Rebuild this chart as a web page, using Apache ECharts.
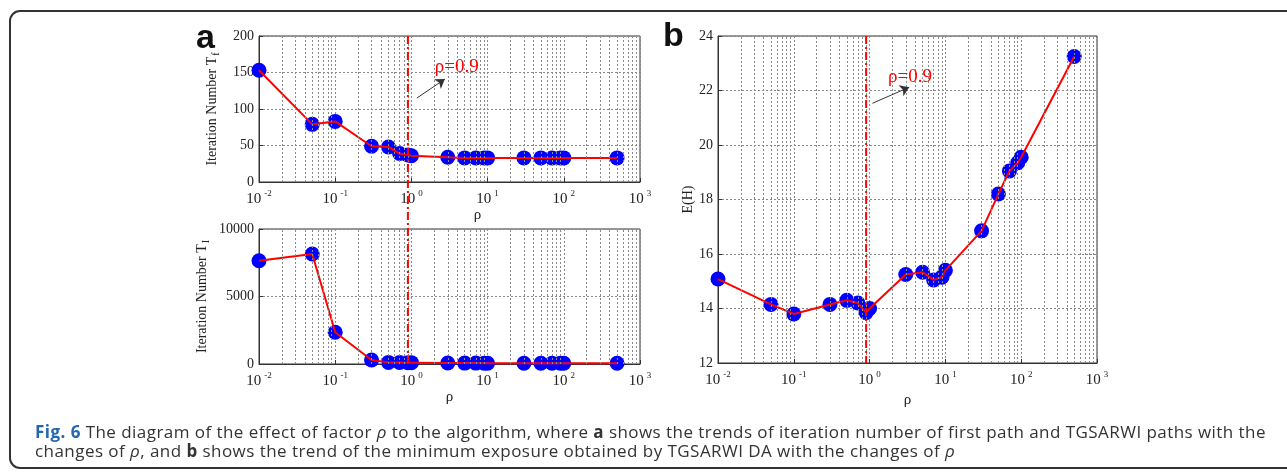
<!DOCTYPE html>
<html lang="en">
<head>
    <meta charset="UTF-8">
    <title>Fig. 6</title>
    <script src="https://cdn.jsdelivr.net/npm/echarts@6/dist/echarts.min.js"></script>
    <style>
        body { margin: 0; background: #fff; }
        #wrap { position: relative; width: 1287px; height: 474px; overflow: hidden; }
        #frame { position: absolute; left: 9px; top: 10px; width: 1300px; height: 459px;
                 border: 2px solid #333; border-radius: 11px; box-sizing: border-box; }
        #main { position: absolute; left: 0; top: 0; width: 1287px; height: 474px; }
        #caption { position: absolute; left: 35px; top: 422px;
                   font-family: "Open Sans", "Noto Sans", sans-serif; font-size: 17px;
                   line-height: 19px; color: #333; white-space: nowrap; }
        #caption b.fig { color: #2466b0; }
    </style>
</head>
<body>
<div id="wrap">
    <div id="frame"></div>
    <div id="main"></div>
    <div id="caption">
        <span id="line1"><b class="fig">Fig. 6</b> The diagram of the effect of factor <i>ρ</i> to the algorithm, where <b>a</b> shows the trends of iteration number of first path and TGSARWI paths with the</span><br>
        <span>changes of <i>ρ</i>, and <b>b</b> shows the trend of the minimum exposure obtained by TGSARWI DA with the changes of <i>ρ</i></span>
    </div>
</div>
<script type="text/javascript">
    // values
    var rho = [0.01, 0.05, 0.1, 0.3, 0.5, 0.7, 0.9, 1, 3, 5, 7, 9, 10, 30, 50, 70, 90, 100, 500];
    var iterFirst = [153, 79, 83, 49, 48, 39, 37, 36, 34, 33, 33, 33, 33, 33, 33, 33, 33, 33, 33];
    var iterAll = [7650, 8150, 2350, 300, 120, 110, 100, 100, 70, 65, 65, 60, 60, 60, 60, 60, 60, 60, 60];
    var exposure = [15.08, 14.15, 13.8, 14.15, 14.3, 14.2, 13.85, 14.0, 15.25, 15.33, 15.05, 15.15, 15.4, 16.85, 18.2, 19.05, 19.35, 19.55, 23.25];
    var decadeExps = [-2, -1, 0, 1, 2, 3];
    var rhoMark = 0.9;

    // stretch the caption so its first line runs as wide as in the figure
    var line1 = document.getElementById('line1');
    var cap = document.getElementById('caption');
    var spare = 1231 - line1.getBoundingClientRect().width;
    cap.style.letterSpacing = (spare / line1.textContent.length) + 'px';

    var serif = '"Liberation Serif", "DejaVu Serif", serif';
    var gridDot = {type: [2, 2], color: '#8a8a8a', width: 1};

    // minor log grid positions 2..9 x 10^k
    var minorGrid = [];
    for (var e = decadeExps[0]; e < decadeExps[decadeExps.length - 1]; e++) {
        for (var m = 2; m <= 9; m++) minorGrid.push(m * Math.pow(10, e));
    }

    function pairs(ys) {
        return rho.map(function (r, k) { return [r, ys[k]]; });
    }

    function xAxisFor(i, nameShift) {
        return {
            type: 'log', logBase: 10, gridIndex: i,
            min: Math.pow(10, decadeExps[0]), max: Math.pow(10, decadeExps[decadeExps.length - 1]),
            splitNumber: decadeExps.length - 1,
            name: 'ρ', nameLocation: 'middle', nameGap: 22,
            nameTextStyle: {fontFamily: serif, fontSize: 15, color: '#222', padding: [0, 0, 0, nameShift]},
            axisLine: {show: true, onZero: false, lineStyle: {color: '#333', width: 1}},
            axisTick: {show: true, inside: true, length: 4, lineStyle: {color: '#333'}},
            splitLine: {show: true, lineStyle: gridDot},
            axisLabel: {
                margin: 7,
                formatter: function (v) {
                    return '{b|10}{s|' + Math.round(Math.log10(v)) + '}';
                },
                rich: {
                    b: {fontFamily: serif, fontSize: 15, color: '#222', lineHeight: 18, verticalAlign: 'bottom'},
                    s: {fontFamily: serif, fontSize: 9, color: '#222', lineHeight: 9, verticalAlign: 'top', padding: [0, 0, 0, 3]}
                }
            }
        };
    }

    function yAxisFor(i, min, max, step, name, gap) {
        return {
            type: 'value', gridIndex: i, min: min, max: max, interval: step,
            name: name, nameLocation: 'middle', nameGap: gap,
            nameTextStyle: {
                fontFamily: serif, fontSize: 14, color: '#222',
                rich: {sub: {fontFamily: serif, fontSize: 10, color: '#222', padding: [8, 0, 0, 1]}}
            },
            axisLine: {show: true, lineStyle: {color: '#333', width: 1}},
            axisTick: {show: true, inside: true, length: 4, lineStyle: {color: '#333'}},
            splitLine: {show: true, lineStyle: gridDot},
            axisLabel: {
                fontFamily: serif, fontSize: 14, color: '#222', margin: 5,
                formatter: function (v) { return String(v); }
            }
        };
    }

    function panelSeries(i, ys, note) {
        var list = [
            {
                type: 'line', xAxisIndex: i, yAxisIndex: i, data: [], z: 1, silent: true,
                markLine: {
                    silent: true, symbol: ['none', 'none'], label: {show: false},
                    lineStyle: gridDot, animation: false,
                    data: minorGrid.map(function (v) { return {xAxis: v}; })
                }
            },
            {
                type: 'scatter', xAxisIndex: i, yAxisIndex: i, data: pairs(ys),
                symbolSize: 15, itemStyle: {color: '#0000ff', opacity: 1}, z: 3
            },
            {
                type: 'line', xAxisIndex: i, yAxisIndex: i, data: pairs(ys),
                showSymbol: false, lineStyle: {color: '#ff0000', width: 2}, z: 4
            }
        ];
        if (note) {
            list.push({
                type: 'line', xAxisIndex: i, yAxisIndex: i, data: [], z: 5,
                markLine: {
                    silent: true, symbol: ['none', 'arrow'], symbolSize: 9, label: {show: false},
                    lineStyle: {color: '#333', width: 1, type: 'solid'},
                    data: [[{coord: note.from}, {coord: note.to}]]
                },
                markPoint: {
                    silent: true, symbol: 'circle', symbolSize: 1,
                    itemStyle: {color: 'transparent'},
                    label: {show: true, position: 'right', distance: 0, formatter: 'ρ=' + rhoMark,
                        color: '#ff0000', fontFamily: serif, fontSize: 19},
                    data: [{coord: note.text}]
                }
            });
        }
        return list;
    }

    var chart = echarts.init(document.getElementById('main'));
    chart.setOption({
        animation: false,
        grid: [
            {left: 259, top: 36, width: 381, height: 146, show: true, borderColor: '#333', borderWidth: 1},
            {left: 259, top: 229, width: 381, height: 135, show: true, borderColor: '#333', borderWidth: 1},
            {left: 718, top: 36, width: 379, height: 327, show: true, borderColor: '#333', borderWidth: 1}
        ],
        xAxis: [xAxisFor(0, 56), xAxisFor(1, 0), xAxisFor(2, 0)],
        yAxis: [
            yAxisFor(0, 0, 200, 50, 'Iteration Number T{sub|f}', 38),
            yAxisFor(1, 0, 10000, 5000, 'Iteration Number T{sub|I}', 48),
            yAxisFor(2, 12, 24, 2, 'E(H)', 22)
        ],
        series: [].concat(
            panelSeries(0, iterFirst, {from: [1.18, 115], to: [2.75, 141], text: [2.0, 158]}),
            panelSeries(1, iterAll, null),
            panelSeries(2, exposure, {from: [1.09, 21.53], to: [3.33, 22.12], text: [1.72, 22.5]})
        )
    });

    // dash-dot marker at rho = 0.9, running through both panels of (a) and through (b)
    var xa = chart.convertToPixel({xAxisIndex: 0}, rhoMark);
    var xb = chart.convertToPixel({xAxisIndex: 2}, rhoMark);
    var aTop = chart.convertToPixel({yAxisIndex: 0}, 200);
    var aBot = chart.convertToPixel({yAxisIndex: 1}, 0);
    var bTop = chart.convertToPixel({yAxisIndex: 2}, 24);
    var bBot = chart.convertToPixel({yAxisIndex: 2}, 12);
    var dashDot = {stroke: '#ff0000', lineWidth: 2, lineDash: [8, 3, 2, 3]};
    chart.setOption({
        graphic: [
            {type: 'line', z: 10, shape: {x1: xa, y1: aTop, x2: xa, y2: aBot}, style: dashDot},
            {type: 'line', z: 10, shape: {x1: xb, y1: bTop, x2: xb, y2: bBot}, style: dashDot},
            {type: 'text', left: 196, top: 22, style: {text: 'a', font: 'bold 34px "Liberation Sans", Arial, sans-serif', fill: '#111'}},
            {type: 'text', left: 663, top: 20, style: {text: 'b', font: 'bold 34px "Liberation Sans", Arial, sans-serif', fill: '#111'}}
        ]
    });
</script>
</body>
</html>
